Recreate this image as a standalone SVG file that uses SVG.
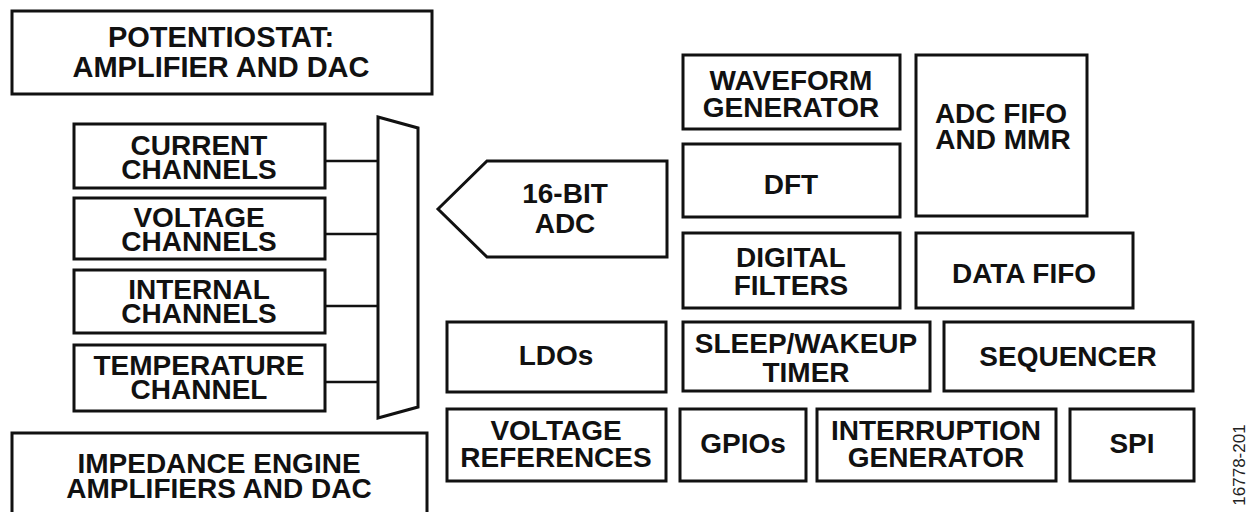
<svg xmlns="http://www.w3.org/2000/svg" width="1251" height="512" viewBox="0 0 1251 512">
<style>
.b{fill:#fff;stroke:#111;stroke-width:3}
.t{font-family:"Liberation Sans",Arial,sans-serif;font-weight:bold;font-size:28px;fill:#111;text-anchor:middle}
.c{stroke:#111;stroke-width:2.5;fill:none}
.id{font-family:"Liberation Sans",Arial,sans-serif;font-size:17px;fill:#222;text-anchor:middle}
</style>
<rect width="1251" height="512" fill="#fff"/>
<g id="potentiostat"><rect class="b" x="12" y="11" width="420" height="83"/><text class="t" style="font-size:29px" x="221" y="47">POTENTIOSTAT:</text><text class="t" style="font-size:29px" x="221" y="77">AMPLIFIER AND DAC</text></g>
<g id="current"><rect class="b" x="74" y="124" width="251" height="64"/><text class="t" x="199" y="155">CURRENT</text><text class="t" x="199" y="179">CHANNELS</text></g>
<g id="voltage"><rect class="b" x="74" y="198" width="251" height="61"/><text class="t" x="199" y="227">VOLTAGE</text><text class="t" x="199" y="251">CHANNELS</text></g>
<g id="internal"><rect class="b" x="74" y="270" width="251" height="63"/><text class="t" x="199" y="299">INTERNAL</text><text class="t" x="199" y="323">CHANNELS</text></g>
<g id="temperature"><rect class="b" x="74" y="345" width="251" height="66"/><text class="t" x="199" y="375">TEMPERATURE</text><text class="t" x="199" y="399">CHANNEL</text></g>
<g id="connectors">
<line class="c" x1="325" y1="161" x2="378" y2="161"/>
<line class="c" x1="325" y1="234" x2="378" y2="234"/>
<line class="c" x1="325" y1="306" x2="378" y2="306"/>
<line class="c" x1="325" y1="382" x2="378" y2="382"/>
</g>
<g id="mux"><polygon class="b" points="378,117 418,128 418,407 378,418"/></g>
<g id="adc"><polygon class="b" points="438,209 487,161 667,161 667,257 487,257"/><text class="t" x="565" y="203">16-BIT</text><text class="t" x="565" y="233">ADC</text></g>
<g id="waveform"><rect class="b" x="683" y="55" width="217" height="74"/><text class="t" x="791" y="90">WAVEFORM</text><text class="t" x="791" y="117">GENERATOR</text></g>
<g id="dft"><rect class="b" x="683" y="144" width="217" height="73"/><text class="t" x="791" y="194">DFT</text></g>
<g id="digital"><rect class="b" x="683" y="233" width="217" height="75"/><text class="t" x="791" y="267">DIGITAL</text><text class="t" x="791" y="295">FILTERS</text></g>
<g id="adcfifo"><rect class="b" x="916" y="55" width="171" height="161"/><text class="t" x="1001" y="123">ADC FIFO</text><text class="t" x="1003" y="149">AND MMR</text></g>
<g id="datafifo"><rect class="b" x="916" y="233" width="217" height="75"/><text class="t" x="1024" y="283">DATA FIFO</text></g>
<g id="ldos"><rect class="b" x="447" y="322" width="219" height="70"/><text class="t" x="556" y="365">LDOs</text></g>
<g id="sleep"><rect class="b" x="683" y="322" width="247" height="69"/><text class="t" x="806" y="353">SLEEP/WAKEUP</text><text class="t" x="806" y="382">TIMER</text></g>
<g id="sequencer"><rect class="b" x="944" y="322" width="249" height="69"/><text class="t" x="1068" y="366">SEQUENCER</text></g>
<g id="vref"><rect class="b" x="447" y="409" width="219" height="72"/><text class="t" x="556" y="440">VOLTAGE</text><text class="t" x="556" y="467">REFERENCES</text></g>
<g id="gpios"><rect class="b" x="680" y="409" width="126" height="72"/><text class="t" x="743" y="453">GPIOs</text></g>
<g id="interrupt"><rect class="b" x="817" y="409" width="239" height="72"/><text class="t" x="936" y="440">INTERRUPTION</text><text class="t" x="936" y="467">GENERATOR</text></g>
<g id="spi"><rect class="b" x="1070" y="409" width="124" height="72"/><text class="t" x="1132" y="453">SPI</text></g>
<g id="impedance"><rect class="b" x="12" y="433" width="415" height="90"/><text class="t" x="219" y="473">IMPEDANCE ENGINE</text><text class="t" x="219" y="498">AMPLIFIERS AND DAC</text></g>
<text class="id" transform="translate(1245,465) rotate(-90)">16778-201</text>
</svg>
